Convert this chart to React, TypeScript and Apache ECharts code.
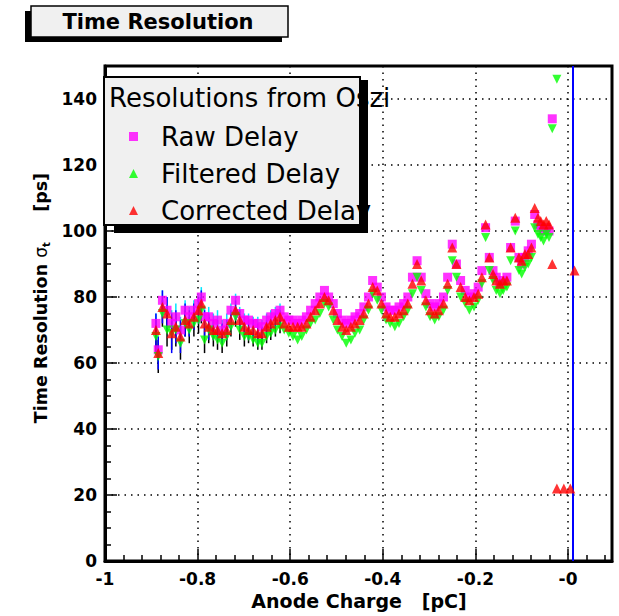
import React, { useEffect, useRef } from "react";
import * as echarts from "echarts";

// ---- data ----
const anodeCharge = [
  -0.890, -0.885, -0.876, -0.866, -0.856, -0.847, -0.837, -0.827, -0.818, -0.808,
  -0.798, -0.792, -0.785, -0.776, -0.766, -0.757, -0.747, -0.737, -0.728, -0.718,
  -0.709, -0.699, -0.690, -0.680, -0.670, -0.661, -0.651, -0.642, -0.632, -0.622,
  -0.613, -0.603, -0.594, -0.584, -0.575, -0.565, -0.556, -0.546, -0.536, -0.526,
  -0.517, -0.507, -0.498, -0.488, -0.479, -0.469, -0.460, -0.450, -0.441, -0.431,
  -0.422, -0.412, -0.403, -0.393, -0.384, -0.374, -0.365, -0.355, -0.346, -0.336,
  -0.326, -0.317, -0.307, -0.298, -0.288, -0.279, -0.269, -0.260, -0.250, -0.241,
  -0.232, -0.222, -0.213, -0.203, -0.194, -0.186, -0.178, -0.170, -0.162, -0.155,
  -0.147, -0.140, -0.132, -0.124, -0.114, -0.106, -0.100, -0.093, -0.086, -0.079,
  -0.072, -0.065, -0.059, -0.053, -0.047, -0.041, -0.034, -0.024, -0.009, 0.005,
  0.014,
];
const rawDelay = [
  72, 64, 79, 76, 72, 74, 70, 76, 74, 76,
  78, 80, 74, 74, 72, 73, 70, 72, 76, 79,
  75, 73, 73, 72, 72, 71, 73, 74, 75, 76,
  74, 73, 73, 72, 73, 74, 76, 78, 80, 82,
  80, 78, 75, 73, 72, 73, 74, 75, 77, 80,
  85, 83, 80, 77, 76, 76, 77, 78, 80, 86,
  91, 86, 81, 78, 77, 78, 80, 86, 96, 90,
  85, 82, 80, 81, 83, 88, 101, 92, 88, 86,
  84, 85, 86, 95, 103, 92, 90, 92, 94, 96,
  105, 102, 101, 100, 101, 100, 134, null, null, null,
  null,
];
const filteredDelay = [
  68, 62, 75, 70, 69, 70, 66, 72, 70, 72,
  73, 76, 67, 70, 68, 67, 66, 68, 71, 74,
  70, 68, 68, 67, 66, 66, 68, 69, 70, 71,
  70, 69, 68, 67, 68, 70, 72, 73, 75, 78,
  77, 73, 70, 68, 66, 67, 69, 70, 73, 76,
  81, 79, 76, 73, 72, 71, 72, 74, 76, 81,
  86, 82, 77, 74, 73, 74, 76, 82, 91, 86,
  80, 78, 76, 77, 79, 84, 98, 88, 85, 82,
  81, 82, 83, 91, 100, 88, 87, 89, 90, 92,
  101, 99, 98, 97, 99, 98, 131, 146, null, null,
  null,
];
const correctedDelay = [
  70, 63, 77, 75, 69, 71, 68, 73, 72, 74,
  76, 78, 72, 71, 70, 70, 69, 70, 73, 76,
  73, 71, 70, 70, 69, 69, 71, 72, 73, 74,
  72, 71, 71, 71, 71, 72, 74, 76, 78, 80,
  79, 76, 73, 71, 70, 71, 72, 73, 75, 78,
  83, 82, 78, 75, 74, 74, 75, 76, 78, 84,
  90, 85, 79, 76, 75, 76, 78, 84, 95, 90,
  83, 80, 79, 80, 81, 86, 102, 92, 87, 85,
  84, 85, 85, 95, 104, 92, 91, 93, 93, 95,
  107, 104, 103, 102, 103, 102, 90, 22, 22, 22,
  88,
];
// errors visible only for the low-charge points
const rawErr = [3, 4, 3, 4, 4, 4, 4, 3, 3, 3, 3, 3, 3, 3, 3, 3, 3, 3, 2, 2, 2, 2, 2, 2, 2, 2, 2, 2, 2, 2];
const filteredErr = [5, 5, 4, 5, 5, 5, 5, 4, 4, 4, 4, 4, 4, 4, 3, 3, 3, 3, 3, 3, 3, 3, 2, 2, 2, 2, 2, 2, 2, 2];
const correctedErr = [5, 5, 5, 5, 6, 5, 5, 5, 4, 4, 4, 4, 4, 4, 3, 3, 3, 3, 3, 3, 3, 3, 3, 3, 3, 2, 2, 2, 2, 2];

const xTickValues = [-1, -0.8, -0.6, -0.4, -0.2, 0];
const xTickLabels = ["-1", "-0.8", "-0.6", "-0.4", "-0.2", "-0"];
const yTickValues = [0, 20, 40, 60, 80, 100, 120, 140];
const yTickLabels = ["0", "20", "40", "60", "80", "100", "120", "140"];
const markerLineX = 0.014;

const seriesNames = ["Raw Delay", "Filtered Delay", "Corrected Delay"];

const pts = (ys: (number | null)[]) =>
  anodeCharge.map((x, i) => [x, ys[i]]).filter((p) => p[1] !== null);

const errPts = (ys: (number | null)[], errs: number[]) =>
  errs.map((e, i) => [anodeCharge[i], ys[i], e]);

const errSeries = (ys: (number | null)[], errs: number[], color: string) => ({
  type: "custom",
  silent: true,
  clip: true,
  data: errPts(ys, errs),
  renderItem: (params: any, api: any) => {
    const x = api.value(0);
    const y = api.value(1);
    const e = api.value(2);
    const p1 = api.coord([x, y - e]);
    const p2 = api.coord([x, y + e]);
    return {
      type: "line",
      shape: { x1: p1[0], y1: p1[1], x2: p2[0], y2: p2[1] },
      style: { stroke: color, lineWidth: 1.5 },
    };
  },
});

const FONT = "DejaVu Sans";

export default function App() {
  const ref = useRef<HTMLDivElement>(null);
  useEffect(() => {
    if (!ref.current) return;
    const chart = echarts.init(ref.current, null, { renderer: "svg" });
    const option: any = {
      animation: false,
      backgroundColor: "#ffffff",
      grid: {
        left: 105,
        right: 7,
        top: 66,
        bottom: 55,
        show: true,
        borderColor: "#000",
        borderWidth: 3,
        backgroundColor: "#ffffff",
      },
      xAxis: {
        type: "value",
        min: -1,
        max: 0.095,
        interval: 0.2,
        axisLine: { show: true, onZero: false, lineStyle: { color: "#000", width: 3 } },
        axisTick: { show: true, inside: true, length: 12, lineStyle: { color: "#000", width: 1.5 } },
        minorTick: { show: true, splitNumber: 5, length: 6, lineStyle: { color: "#000", width: 1.5 } },
        splitLine: { show: true, lineStyle: { color: "#000", width: 1.5, type: [1.5, 5] } },
        axisLabel: {
          color: "#000",
          fontFamily: FONT,
          fontWeight: "bold",
          fontSize: 17,
          margin: 9,
          showMaxLabel: false,
          formatter: (v: number) => {
            const i = xTickValues.findIndex((t) => Math.abs(t - v) < 1e-6);
            return i >= 0 ? xTickLabels[i] : "";
          },
        },
      },
      yAxis: {
        type: "value",
        min: 0,
        max: 150,
        interval: 20,
        axisLine: { show: true, onZero: false, lineStyle: { color: "#000", width: 3 } },
        axisTick: { show: true, inside: true, length: 12, lineStyle: { color: "#000", width: 1.5 } },
        minorTick: { show: true, splitNumber: 4, length: 6, lineStyle: { color: "#000", width: 1.5 } },
        splitLine: { show: true, lineStyle: { color: "#000", width: 1.5, type: [1.5, 5] } },
        axisLabel: {
          color: "#000",
          fontFamily: FONT,
          fontWeight: "bold",
          fontSize: 17,
          margin: 8,
          showMaxLabel: false,
          formatter: (v: number) => {
            const i = yTickValues.findIndex((t) => Math.abs(t - v) < 1e-6);
            return i >= 0 ? yTickLabels[i] : "";
          },
        },
      },
      legend: {
        show: true,
        orient: "vertical",
        left: 124,
        top: 118,
        z: 30,
        selectedMode: false,
        itemGap: 10,
        itemWidth: 9,
        itemHeight: 9,
        data: seriesNames,
        textStyle: {
          fontFamily: FONT,
          fontSize: 26,
          lineHeight: 27,
          color: "#000",
          padding: [0, 0, 0, 18],
        },
      },
      graphic: [
        // title box
        { type: "rect", z: 20, shape: { x: 25, y: 11, width: 257, height: 31 }, style: { fill: "#000" } },
        {
          type: "rect",
          z: 21,
          shape: { x: 31, y: 6, width: 257, height: 31 },
          style: { fill: "#f0f0f0", stroke: "#000", lineWidth: 1.5 },
        },
        {
          type: "text",
          z: 22,
          x: 158,
          y: 22,
          style: {
            text: "Time Resolution",
            fontFamily: FONT,
            fontWeight: "bold",
            fontSize: 21,
            fill: "#000",
            align: "center",
            verticalAlign: "middle",
          },
        },
        // legend box
        { type: "rect", z: 20, shape: { x: 114, y: 80, width: 254, height: 153 }, style: { fill: "#000" } },
        {
          type: "rect",
          z: 21,
          shape: { x: 104, y: 77, width: 256, height: 148 },
          style: { fill: "#f0f0f0", stroke: "#000", lineWidth: 2 },
        },
        {
          type: "text",
          z: 22,
          x: 109,
          y: 98,
          style: {
            text: "Resolutions from Oszi",
            fontFamily: FONT,
            fontSize: 26,
            fill: "#000",
            align: "left",
            verticalAlign: "middle",
          },
        },
        // axis titles
        {
          type: "text",
          z: 22,
          x: 359,
          y: 601,
          style: {
            text: "Anode Charge   [pC]",
            fontFamily: FONT,
            fontWeight: "bold",
            fontSize: 19,
            fill: "#000",
            align: "center",
            verticalAlign: "middle",
          },
        },
        {
          type: "text",
          z: 22,
          x: 41,
          y: 298,
          rotation: Math.PI / 2,
          style: {
            text: "{a|Time Resolution }{b|σ}{c|t}{a|     [ps]}",
            fill: "#000",
            align: "center",
            verticalAlign: "middle",
            rich: {
              a: { fontFamily: FONT, fontWeight: "bold", fontSize: 17.5, fill: "#000" },
              b: { fontFamily: FONT, fontSize: 17, fill: "#000" },
              c: { fontFamily: FONT, fontWeight: "bold", fontSize: 10, fill: "#000", padding: [10, 0, 0, 0] },
            },
          },
        },
      ],
      series: [
        errSeries(rawDelay, rawErr, "#00e5ff"),
        {
          name: seriesNames[0],
          type: "scatter",
          symbol: "rect",
          symbolSize: 9,
          itemStyle: { color: "#ff00ff" },
          data: pts(rawDelay),
          z: 3,
        },
        errSeries(filteredDelay, filteredErr, "#000000"),
        {
          name: seriesNames[1],
          type: "scatter",
          symbol: "triangle",
          symbolRotate: 180,
          symbolSize: 9,
          itemStyle: { color: "#00ff00" },
          data: pts(filteredDelay),
          z: 4,
        },
        errSeries(correctedDelay, correctedErr, "#0000ff"),
        {
          name: seriesNames[2],
          type: "scatter",
          symbol: "triangle",
          symbolSize: 10,
          itemStyle: { color: "#ff0000" },
          data: pts(correctedDelay),
          z: 5,
          markLine: {
            silent: true,
            symbol: "none",
            label: { show: false },
            lineStyle: { color: "#0000ff", width: 2, type: "solid" },
            data: [{ xAxis: markerLineX }],
          },
        },
      ],
    };
    chart.setOption(option);
    return () => chart.dispose();
  }, []);
  return (
    <div
      ref={ref}
      style={{ position: "fixed", left: 0, top: 0, width: 619, height: 616 }}
    />
  );
}
